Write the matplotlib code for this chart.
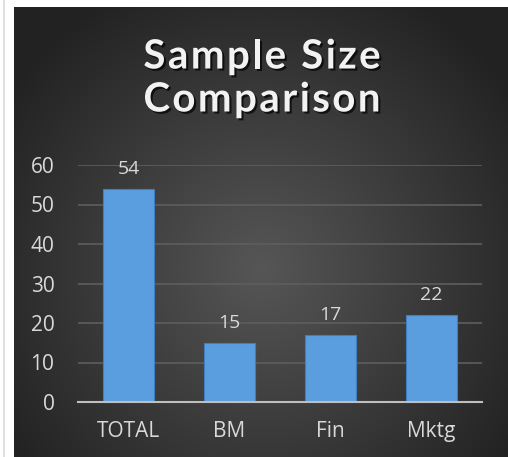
import numpy as np
import matplotlib
matplotlib.use("Agg")
import matplotlib.pyplot as plt
import matplotlib.patheffects as pe
from matplotlib.lines import Line2D

categories = ["TOTAL", "BM", "Fin", "Mktg"]
sample_sizes = [54, 15, 17, 22]
y_ticks = [0, 10, 20, 30, 40, 50, 60]
title_lines = ["Sample Size", "Comparison"]

W, H = 508, 457
fig = plt.figure(figsize=(W / 100, H / 100), dpi=100)
fig.patch.set_facecolor("white")

# thin light frame line on the left edge
fig.add_artist(Line2D([3.5 / W, 3.5 / W], [0, 1], color="#d9d9d9", lw=1.2,
                      transform=fig.transFigure))

# dark panel with a radial gradient
bg = fig.add_axes([14 / W, 0, (W - 14) / W, (H - 7) / H])
bg.set_axis_off()
ny, nx = 300, 330
yy, xx = np.mgrid[0:ny, 0:nx]
cx, cy = nx * 0.50, ny * 0.58
r = np.sqrt(((xx - cx) / (nx * 0.62)) ** 2 + ((yy - cy) / (ny * 0.70)) ** 2)
r = np.clip(r, 0, 1)
inner, outer = np.array([0x56, 0x56, 0x56]) / 255, np.array([0x22, 0x22, 0x22]) / 255
img = inner[None, None, :] * (1 - r[..., None]) + outer[None, None, :] * r[..., None]
bg.imshow(img, aspect="auto", extent=[0, 1, 0, 1], interpolation="bilinear")
bg.set_xlim(0, 1)
bg.set_ylim(0, 1)

# title: letter-spaced, with a soft drop shadow
renderer = fig.canvas.get_renderer()
title_style = dict(fontsize=29, fontweight="bold", family="Lato", color="#f2f2f2")
tracking = 2.4  # extra pixels between letters
shadow = [pe.SimplePatchShadow(offset=(1.5, -1.5), shadow_rgbFace="black", alpha=0.7),
          pe.Normal()]
for i, line in enumerate(title_lines):
    y = 1 - (57 + 43 * i) / H
    widths = []
    for ch in line:
        t = fig.text(0, 0, ch if ch != " " else "n", **title_style)
        w = t.get_window_extent(renderer).width
        if ch == " ":
            w *= 0.45
        widths.append(w)
        t.remove()
    total = sum(widths) + tracking * (len(line) - 1)
    xpos = 262 - total / 2
    for ch, w in zip(line, widths):
        if ch != " ":
            fig.text(xpos / W, y, ch, ha="left", va="center",
                     path_effects=shadow, **title_style)
        xpos += w + tracking

# bar chart
ax = fig.add_axes([78 / W, (H - 402) / H, 404 / W, 237 / H])
ax.set_facecolor("none")
x = np.arange(len(categories))
ax.bar(x, sample_sizes, width=0.5, color="#5b9ee0", edgecolor="#3f7fc0",
       linewidth=0.8, zorder=3)
ax.set_xlim(-0.5, len(categories) - 0.5)
ax.set_ylim(0, 60)
ax.set_yticks(y_ticks)
ax.set_xticks(x)
ax.set_xticklabels(categories)
ax.yaxis.grid(True, color="#5e5e5e", lw=1.2, zorder=0)
ax.set_axisbelow(True)
for s in ["top", "right", "left"]:
    ax.spines[s].set_visible(False)
ax.spines["bottom"].set_color("#bfbfbf")
ax.spines["bottom"].set_linewidth(1.5)
ax.spines["bottom"].set_zorder(4)
ax.tick_params(axis="both", length=0, labelcolor="#d9d9d9", labelsize=15)
ax.tick_params(axis="y", pad=17)
ax.tick_params(axis="x", pad=14)
for lab in ax.get_xticklabels() + ax.get_yticklabels():
    lab.set_family("Open Sans")

for xi, v in zip(x, sample_sizes):
    ax.annotate(str(v), (xi, v), xytext=(0, 8), textcoords="offset points",
                ha="center", va="bottom", color="#d9d9d9", fontsize=14,
                family="Open Sans")

fig.savefig("out.png", dpi=100, facecolor=fig.get_facecolor())
